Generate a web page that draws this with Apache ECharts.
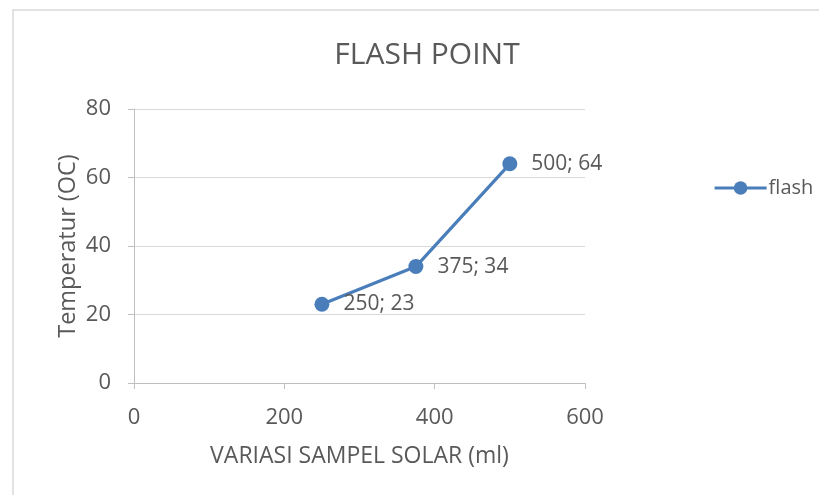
<!DOCTYPE html>
<html><head><meta charset="utf-8">
<script src="https://cdn.jsdelivr.net/npm/echarts@6/dist/echarts.min.js"></script>
<style>html,body{margin:0;padding:0;background:#fff}#c{width:819px;height:495px}</style>
</head><body><div id="c"></div>
<script>
const seriesName = 'flash point';
const xValues = [250, 375, 500];
const yValues = [23, 34, 64];
const xTicks = [0, 200, 400, 600];
const yTicks = [0, 20, 40, 60, 80];
const titleText = 'FLASH POINT';
const xName = 'VARIASI SAMPEL SOLAR (ml)';
const yName = 'Temperatur (OC)';

const FONT = 'Open Sans';
const TXT = '#595959';
const chart = echarts.init(document.getElementById('c'));
chart.setOption({
  animation: false,
  textStyle: {fontFamily: FONT},
  graphic: [{type: 'rect', shape: {x: 13, y: 10, width: 900, height: 600},
    style: {fill: 'none', stroke: '#d9d9d9', lineWidth: 1.5}, silent: true, z: -1}],
  title: {text: titleText, left: 422, top: 35, textAlign: 'center',
    textStyle: {fontFamily: FONT, fontSize: 30, fontWeight: 'normal', color: TXT}},
  legend: {left: 708, top: 173, itemWidth: 52, itemHeight: 17, itemGap: 4,
    lineStyle: {width: 3.2},
    textStyle: {fontFamily: FONT, fontSize: 20, color: TXT, padding: [0,0,0,-3]},
    data: [{name: seriesName}]},
  grid: {left: 134, top: 109, width: 451, height: 274},
  xAxis: {type: 'value', min: xTicks[0], max: xTicks[xTicks.length-1], interval: 200,
    name: xName, nameLocation: 'middle', nameGap: 62, nameMoveOverlap: false,
    nameTextStyle: {fontFamily: FONT, fontSize: 23, color: TXT},
    axisLine: {show: true, lineStyle: {color: '#bfbfbf', width: 1}},
    axisTick: {show: true, length: 6, lineStyle: {color: '#bfbfbf'}},
    axisLabel: {fontFamily: FONT, fontSize: 22, color: TXT, margin: 24},
    splitLine: {show: false}},
  yAxis: {type: 'value', min: yTicks[0], max: yTicks[yTicks.length-1], interval: 20,
    name: yName, nameLocation: 'middle', nameGap: 54, nameRotate: 90, nameMoveOverlap: false,
    nameTextStyle: {fontFamily: FONT, fontSize: 23.5, color: TXT},
    axisLine: {show: true, lineStyle: {color: '#bfbfbf', width: 1}},
    axisTick: {show: true, length: 6, inside: false, lineStyle: {color: '#bfbfbf'}},
    axisLabel: {fontFamily: FONT, fontSize: 22, color: TXT, margin: 23},
    splitLine: {show: true, lineStyle: {color: '#d9d9d9', width: 1}}},
  series: [{
    name: seriesName, type: 'line',
    data: xValues.map((x, i) => [x, yValues[i]]),
    symbol: 'circle', symbolSize: 15,
    lineStyle: {color: '#4a7ebb', width: 3.2},
    itemStyle: {color: '#4a7ebb'},
    label: {show: true, position: 'right', distance: 14,
      fontFamily: FONT, fontSize: 21, color: TXT,
      formatter: p => p.value[0] + '; ' + p.value[1]}
  }]
});
</script></body></html>
